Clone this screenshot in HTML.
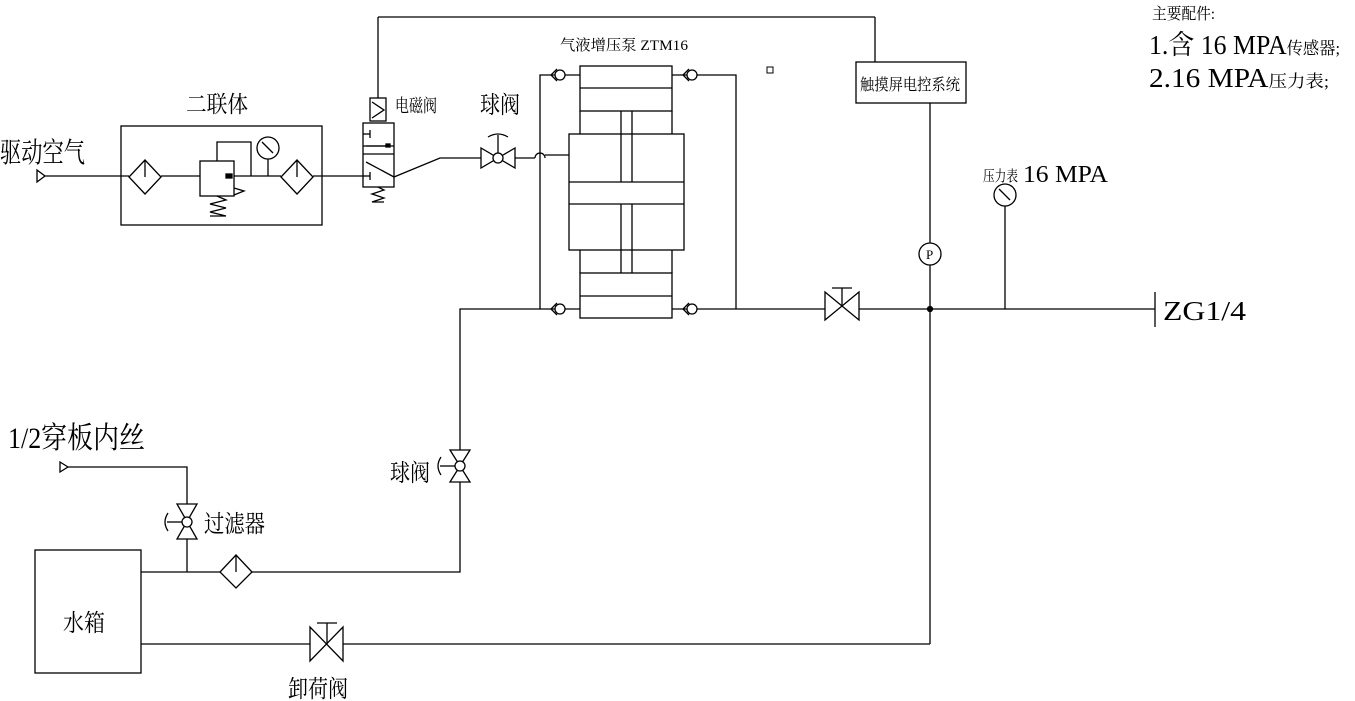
<!DOCTYPE html>
<html><head><meta charset="utf-8"><style>
html,body{margin:0;padding:0;background:#fff;}
svg{display:block;}
text{font-family:"Liberation Serif","Noto Serif CJK SC","Noto Sans CJK SC",serif;fill:#000;}
</style></head><body>
<svg width="1355" height="701" viewBox="0 0 1355 701" xmlns="http://www.w3.org/2000/svg">
<g stroke="#000" stroke-width="1.3" fill="none">
<polygon points="37,170 45,176 37,182"/>
<line x1="45" y1="176" x2="129" y2="176"/>
<rect x="121" y="126" width="201" height="99"/>
<polygon points="145,160 161,177 145,194 129,177"/>
<line x1="145" y1="160" x2="145" y2="177"/>
<line x1="161" y1="176" x2="200" y2="176"/>
<rect x="200" y="161" width="34" height="35"/>
<rect x="226" y="174" width="6" height="4" fill="#000"/>
<polyline points="217,161 217,142 251,142 251,176"/>
<polyline points="234,188 244,191 234,195"/>
<polyline points="217,196 226,200 210,204 226,208 210,212 226,216 210,216"/>
<line x1="234" y1="176" x2="281" y2="176"/>
<circle cx="268" cy="148" r="11"/>
<line x1="268" y1="159" x2="268" y2="176"/>
<line x1="262" y1="142" x2="273" y2="153"/>
<polygon points="297,160 313,177 297,194 281,177"/>
<line x1="297" y1="160" x2="297" y2="177"/>
<line x1="313" y1="176" x2="363" y2="176"/>
<rect x="370" y="98" width="16" height="23"/>
<polyline points="372,102 384,110 372,118"/>
<line x1="378" y1="98" x2="378" y2="17"/>
<line x1="378" y1="17" x2="875" y2="17"/>
<line x1="875" y1="17" x2="875" y2="62"/>
<rect x="363" y="123" width="31" height="64"/>
<line x1="363" y1="146" x2="394" y2="146"/>
<line x1="363" y1="154" x2="394" y2="154"/>
<line x1="370" y1="130" x2="370" y2="138"/><line x1="363" y1="134" x2="370" y2="134"/>
<line x1="370" y1="172" x2="370" y2="180"/><line x1="363" y1="176" x2="370" y2="176"/>
<line x1="366" y1="146" x2="390" y2="146"/>
<rect x="386" y="144" width="4" height="3" fill="#000"/>
<line x1="366" y1="162" x2="394" y2="177"/>
<polyline points="378,187 384,190 372,194 384,198 372,202 384,202"/>
<polyline points="394,177 440,158 481,158"/>
<polygon points="481,148 481,168 515,148 515,168"/>
<circle cx="498" cy="158" r="5" fill="#fff"/>
<line x1="498" y1="153" x2="498" y2="135"/>
<path d="M488,137 Q498,131 508,137"/>
<line x1="515" y1="158" x2="535" y2="158"/>
<path d="M535,158 A5,5 0 0 1 545,158"/>
<line x1="545" y1="155" x2="569" y2="155"/>
<rect x="580" y="66" width="92" height="45"/>
<line x1="580" y1="88" x2="672" y2="88"/>
<rect x="569" y="134" width="115" height="116"/>
<line x1="569" y1="182" x2="684" y2="182"/>
<line x1="569" y1="204" x2="684" y2="204"/>
<line x1="580" y1="111" x2="580" y2="134"/><line x1="672" y1="111" x2="672" y2="134"/>
<line x1="580" y1="250" x2="580" y2="273"/><line x1="672" y1="250" x2="672" y2="273"/>
<rect x="580" y="273" width="92" height="45"/>
<line x1="580" y1="296" x2="672" y2="296"/>
<line x1="621" y1="111" x2="621" y2="182"/><line x1="632" y1="111" x2="632" y2="182"/>
<line x1="621" y1="204" x2="621" y2="273"/><line x1="632" y1="204" x2="632" y2="273"/>
<polyline points="580,75 540,75 540,309 460,309 460,450"/>
<line x1="540" y1="309" x2="580" y2="309"/>
<polyline points="672,75 736,75 736,309"/>
<line x1="672" y1="309" x2="825" y2="309"/>
<circle cx="560" cy="75" r="5" fill="#fff"/><polyline points="557,69 551,75 557,81"/>
<circle cx="560" cy="309" r="5" fill="#fff"/><polyline points="557,303 551,309 557,315"/>
<circle cx="692" cy="75" r="5" fill="#fff"/><polyline points="689,69 683,75 689,81"/>
<circle cx="692" cy="309" r="5" fill="#fff"/><polyline points="689,303 683,309 689,315"/>
<rect x="767" y="67" width="6" height="6" stroke-width="1"/>
<rect x="856" y="62" width="110" height="41"/>
<line x1="930" y1="103" x2="930" y2="243"/>
<circle cx="930" cy="254" r="11"/>
<line x1="930" y1="265" x2="930" y2="644"/>
<circle cx="930" cy="309" r="2.5" fill="#000"/>
<polygon points="825,292 825,320 859,292 859,320"/>
<line x1="842" y1="306" x2="842" y2="288"/>
<line x1="832" y1="288" x2="852" y2="288"/>
<line x1="859" y1="309" x2="1155" y2="309"/>
<line x1="1155" y1="292" x2="1155" y2="327"/>
<circle cx="1005" cy="195" r="11"/>
<line x1="999" y1="189" x2="1010" y2="200"/>
<line x1="1005" y1="206" x2="1005" y2="309"/>
<polygon points="60,462 68,467 60,472"/>
<polyline points="68,467 187,467 187,504"/>
<polygon points="177,504 197,504 177,539 197,539"/>
<circle cx="187" cy="522" r="5" fill="#fff"/>
<line x1="167" y1="522" x2="182" y2="522"/>
<path d="M168,513 Q162,522 168,531"/>
<line x1="187" y1="539" x2="187" y2="572"/>
<rect x="35" y="550" width="106" height="123"/>
<line x1="141" y1="572" x2="220" y2="572"/>
<polygon points="236,555 252,572 236,588 220,572"/>
<line x1="236" y1="555" x2="236" y2="572"/>
<polyline points="252,572 460,572 460,482"/>
<polygon points="450,450 470,450 450,482 470,482"/>
<circle cx="460" cy="466" r="5" fill="#fff"/>
<line x1="440" y1="466" x2="455" y2="466"/>
<path d="M441,457 Q435,466 441,475"/>
<line x1="141" y1="644" x2="310" y2="644"/>
<polygon points="310,627 310,661 343,627 343,661"/>
<line x1="327" y1="644" x2="327" y2="623"/>
<line x1="317" y1="623" x2="337" y2="623"/>
<line x1="343" y1="644" x2="930" y2="644"/>
</g>
<g>
<text x="0" y="162" font-size="28" textLength="85" lengthAdjust="spacingAndGlyphs">驱动空气</text>
<text x="186" y="112" font-size="23" textLength="62" lengthAdjust="spacingAndGlyphs">二联体</text>
<text x="395" y="112" font-size="18" textLength="42" lengthAdjust="spacingAndGlyphs">电磁阀</text>
<text x="480" y="113" font-size="24" textLength="40" lengthAdjust="spacingAndGlyphs">球阀</text>
<text x="560" y="50" font-size="15" textLength="128" lengthAdjust="spacingAndGlyphs">气液增压泵 ZTM16</text>
<text x="860" y="90" font-size="16" textLength="100" lengthAdjust="spacingAndGlyphs">触摸屏电控系统</text>
<text x="926" y="259" font-size="13">P</text>
<text x="983" y="181" font-size="15" textLength="35" lengthAdjust="spacingAndGlyphs">压力表</text>
<text x="1023" y="182" font-size="24" textLength="85" lengthAdjust="spacingAndGlyphs">16 MPA</text>
<text x="1163" y="320" font-size="27" textLength="83" lengthAdjust="spacingAndGlyphs">ZG1/4</text>
<text x="1152" y="19" font-size="16" textLength="63" lengthAdjust="spacingAndGlyphs">主要配件:</text>
<text x="1149" y="54" font-size="27" textLength="191" lengthAdjust="spacingAndGlyphs">1.含 16 MPA<tspan font-size="17">传感器;</tspan></text>
<text x="1149" y="87" font-size="27" textLength="180" lengthAdjust="spacingAndGlyphs">2.16 MPA<tspan font-size="17">压力表;</tspan></text>
<text x="8" y="448" font-size="30" textLength="137" lengthAdjust="spacingAndGlyphs">1/2穿板内丝</text>
<text x="204" y="532" font-size="24" textLength="61" lengthAdjust="spacingAndGlyphs">过滤器</text>
<text x="390" y="481" font-size="24" textLength="40" lengthAdjust="spacingAndGlyphs">球阀</text>
<text x="63" y="631" font-size="24" textLength="42" lengthAdjust="spacingAndGlyphs">水箱</text>
<text x="288" y="697" font-size="24" textLength="60" lengthAdjust="spacingAndGlyphs">卸荷阀</text>
</g>
</svg>
</body></html>
